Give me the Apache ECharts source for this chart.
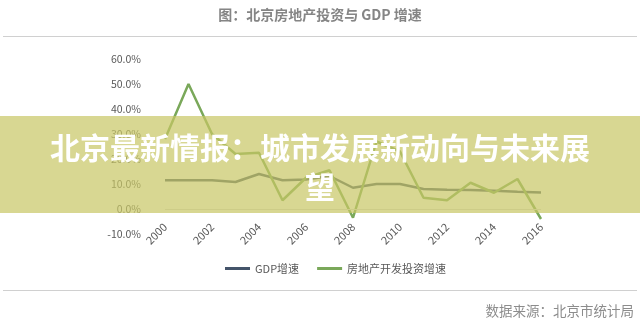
<!DOCTYPE html>
<html>
<head>
<meta charset="utf-8">
<script src="https://cdn.jsdelivr.net/npm/echarts@6/dist/echarts.min.js"></script>
<style>html,body{margin:0;padding:0;background:#fff;}#c{width:640px;height:331px;}</style>
</head>
<body>
<div id="c"></div>
<script>
var years = ['2000','2001','2002','2003','2004','2005','2006','2007','2008','2009','2010','2011','2012','2013','2014','2015','2016'];
var gdpGrowth = [11.5, 11.5, 11.5, 10.8, 14.0, 11.5, 11.8, 13.2, 8.5, 10.0, 10.0, 8.0, 7.7, 7.6, 7.3, 6.9, 6.6];
var investGrowth = [28, 50, 30, 22, 22.5, 3.5, 12.5, 15.5, -3.5, 27, 23, 4.5, 3.5, 10.5, 6.5, 12, -4];
var seriesNames = ['GDP增速', '房地产开发投资增速'];
var chartTitle = '图：北京房地产投资与 GDP 增速';
var sourceText = '数据来源：北京市统计局';
var bannerLines = ['北京最新情报：城市发展新动向与未来展', '望'];

var FONT = '"Noto Sans CJK SC", "Noto Sans", sans-serif';
var chart = echarts.init(document.getElementById('c'));
chart.setOption({
  animation: false,
  backgroundColor: '#ffffff',
  grid: { left: 165, right: 99, top: 59, bottom: 97, containLabel: false },
  legend: {
    data: seriesNames,
    left: 220, top: 258,
    icon: 'rect', itemWidth: 25, itemHeight: 3, itemGap: 18,
    textStyle: { color: '#595959', fontSize: 11, fontFamily: FONT }
  },
  xAxis: {
    type: 'category', data: years, boundaryGap: false,
    axisLine: { show: false, onZero: false },
    axisTick: { show: false },
    axisLabel: { interval: 1, rotate: 45, margin: -9, color: '#595959', fontSize: 11, fontFamily: FONT },
    splitLine: { show: false }
  },
  yAxis: {
    type: 'value', min: -10, max: 60, interval: 10,
    axisLine: { show: false }, axisTick: { show: false }, splitLine: { show: false },
    axisLabel: { margin: 24, color: '#595959', fontSize: 10.5, fontFamily: FONT,
      formatter: function (v) { return v.toFixed(1) + '%'; } }
  },
  series: [
    { name: seriesNames[0], type: 'line', data: gdpGrowth, symbol: 'none', smooth: false,
      lineStyle: { color: '#44546A', width: 2.5 }, itemStyle: { color: '#44546A' },
      markLine: { silent: true, symbol: 'none', label: { show: false },
        lineStyle: { color: '#d9d9d9', width: 1, type: 'solid' }, data: [{ yAxis: 0 }] } },
    { name: seriesNames[1], type: 'line', data: investGrowth, symbol: 'none', smooth: false,
      lineStyle: { color: '#7aa85a', width: 2.5 }, itemStyle: { color: '#7aa85a' } }
  ],
  graphic: [
    { type: 'text', left: 'center', top: 8, z: 50,
      style: { text: chartTitle, fill: '#858585', fontSize: 14, fontWeight: 'bold', fontFamily: FONT } },
    { type: 'line', z: 50, shape: { x1: 3, y1: 36.5, x2: 637, y2: 36.5 }, style: { stroke: '#d0d0d0', lineWidth: 1 } },
    { type: 'line', z: 50, shape: { x1: 3, y1: 290.5, x2: 637, y2: 290.5 }, style: { stroke: '#d0d0d0', lineWidth: 1 } },
    { type: 'text', right: 6, top: 304, z: 50,
      style: { text: sourceText, fill: '#8c8c8c', fontSize: 13.5, fontFamily: FONT } },
    { type: 'rect', z: 100, shape: { x: 0, y: 116, width: 640, height: 97 },
      style: { fill: 'rgba(200,198,100,0.7)' } },
    { type: 'text', z: 101, x: 320, y: 128,
      style: { text: bannerLines.join('\n'), fill: '#ffffff', fontSize: 30, lineHeight: 39,
        fontWeight: 'bold', align: 'center', verticalAlign: 'top', fontFamily: FONT } }
  ]
});
</script>
</body>
</html>
